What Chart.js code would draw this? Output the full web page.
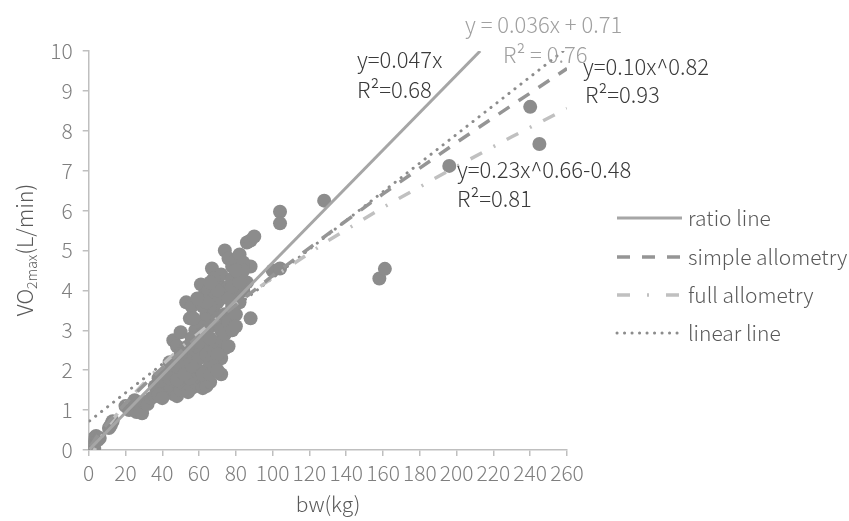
<!DOCTYPE html>
<html>
<head>
<meta charset="utf-8">
<script src="https://cdn.jsdelivr.net/npm/chart.js@4/dist/chart.umd.min.js"></script>
<style>
html,body{margin:0;padding:0;background:#fff;}
#c{display:block;}
</style>
</head>
<body>
<canvas id="c" width="849" height="521"></canvas>
<script>
// ---- data ----
const ptX = [0.5,1,1.5,2,2.5,3,4,5,6,3,
  11,13,12,
  20,22,24,26,28,29,30,32,34,36,25,
  36,38,42,40,42,44,46,48,50,52,54,56,58,60,62,64,66,55,60,64,72,
  44,46,48,50,52,54,56,58,60,62,64,66,68,70,72,74,76,
  53,56,55,58,60,62,64,66,68,70,72,74,76,78,80,82,88,
  61,63,65,67,68,70,72,74,76,78,80,82,84,86,88,
  74,76,78,80,82,84,86,88,90,
  70,72,66,68,64,58,56,60,62,66,70,74,78,80,76,78,84,82,80,70,66,64,57,59,
  48,50,46,38,40,44,48,52,56,62,66,68,70,54,52,50,
  104,104,128,100,104,158,161,196,240,245];
const ptY = [0.05,0.1,0.15,0.2,0.12,0.3,0.35,0.25,0.3,0.05,
  0.55,0.72,0.62,
  1.1,1.0,1.15,0.95,1.05,0.92,1.2,1.15,1.3,1.35,1.25,
  1.6,1.8,1.9,1.55,1.7,1.5,1.4,1.35,1.5,1.65,1.45,1.55,1.7,1.6,1.55,1.6,1.7,1.8,1.9,2.0,1.9,
  2.2,2.75,2.6,2.95,2.5,2.2,2.4,2.1,2.3,2.6,2.4,2.2,2.5,2.7,2.3,2.55,2.6,
  3.7,3.6,3.3,3.0,3.2,2.9,3.4,3.1,3.5,3.3,3.0,3.4,3.2,3.6,3.4,3.7,3.3,
  4.15,3.9,4.0,4.55,3.8,4.2,4.4,3.9,4.1,4.3,4.0,4.4,4.0,4.2,4.6,
  5.0,4.8,4.6,4.75,4.9,4.7,5.2,5.25,5.35,
  3.7,3.8,3.6,4.3,3.0,2.6,2.8,2.7,3.6,2.8,2.4,2.9,3.0,3.1,3.8,4.1,4.5,4.2,4.5,4.0,4.2,3.7,3.3,3.8,
  2.2,2.1,1.9,1.4,1.3,1.8,1.75,1.9,2.1,1.9,1.9,2.1,2.0,2.6,2.3,2.4,
  5.97,5.68,6.25,4.5,4.55,4.3,4.54,7.12,8.6,7.67];

const ratioX = [0.5, 212.8];
const ratioY = [0.02, 10.0];
const linearX = [0.5, 258];
const linearY = [0.73, 10.0];
const simpleX = [1,5,10,20,35,50,75,100,130,160,200,230,260];
const simpleY = [0.10,0.37,0.66,1.17,1.85,2.47,3.45,4.37,5.41,6.42,7.71,8.64,9.56];
const fullX = [1,3,5,10,20,35,50,75,100,130,160,200,230,260];
const fullY = [-0.25,-0.01,0.18,0.57,1.18,1.92,2.56,3.49,4.32,5.24,6.08,7.11,7.85,8.56];

const xTickVals = [0,20,40,60,80,100,120,140,160,180,200,220,240,260];
const yTickVals = [0,1,2,3,4,5,6,7,8,9,10];
const seriesNames = ['ratio line','simple allometry','full allometry','linear line'];

// ---- styles ----
const FONT = '"Noto Sans CJK SC", "Noto Sans", sans-serif';
const FW = '300 ';
const styles = [
  {color:'#a6a6a6', width:3, dash:[]},
  {color:'#959595', width:3.5, dash:[13,11]},
  {color:'#c0c0c0', width:3.5, dash:[13,13,2,13]},
  {color:'#8c8c8c', width:3, dash:[0.1,7.5], cap:'round'}
];

const toPts = (xs, ys) => xs.map((x,i)=>({x:x, y:ys[i]}));

function lineDs(label, xs, ys, st){
  return {label:label, data:toPts(xs,ys), showLine:true, fill:false,
    borderColor:st.color, borderWidth:st.width, borderDash:st.dash,
    borderCapStyle: st.cap || 'butt', pointRadius:0, pointHoverRadius:0,
    tension:0, clip:0, order:1};
}

const overlay = {
  id:'overlay',
  afterDraw(chart){
    const c = chart.ctx;
    c.save();
    // annotations
    const ann = [
      ['y=0.047x', 357, 68, '#3a3a3a'],
      ['R\u00B2=0.68', 357, 98, '#3a3a3a'],
      ['y = 0.036x + 0.71', 465, 33, '#a0a0a0'],
      ['R\u00B2 = 0.76', 503, 63, '#a0a0a0'],
      ['y=0.10x^0.82', 583, 75, '#3a3a3a'],
      ['R\u00B2=0.93', 585, 103, '#3a3a3a'],
      ['y=0.23x^0.66-0.48', 457, 178, '#3a3a3a'],
      ['R\u00B2=0.81', 457, 207, '#3a3a3a']
    ];
    c.font = FW + '22px ' + FONT;
    c.textBaseline = 'alphabetic';
    c.textAlign = 'left';
    ann.forEach(a => { c.fillStyle = a[3]; c.fillText(a[0], a[1], a[2]); });

    // legend
    const ly = [218, 257, 295, 333];
    seriesNames.forEach((name, i) => {
      const st = styles[i];
      c.beginPath();
      c.strokeStyle = st.color;
      c.lineWidth = st.width;
      c.setLineDash(i===0 ? [] : (i===1 ? [13,12] : (i===2 ? [13,17,2,17] : [0.1,7.4])));
      c.lineCap = st.cap || 'butt';
      c.moveTo(617, ly[i]); c.lineTo(682, ly[i]);
      c.stroke();
      c.setLineDash([]);
      c.lineCap = 'butt';
      c.fillStyle = '#595959';
      c.font = FW + '21px ' + FONT;
      c.textBaseline = 'middle';
      c.fillText(name, 688, ly[i]);
    });

    // axis titles
    c.fillStyle = '#595959';
    c.textBaseline = 'alphabetic';
    c.font = FW + '21px ' + FONT;
    const w1 = c.measureText('bw(kg)').width;
    c.fillText('bw(kg)', 328 - w1/2, 512);

    c.save();
    c.translate(33, 250);
    c.rotate(-Math.PI/2);
    c.font = FW + '21.5px ' + FONT;
    const a = c.measureText('VO').width;
    c.font = FW + '14px ' + FONT;
    const b = c.measureText('2max').width;
    c.font = FW + '21.5px ' + FONT;
    const d = c.measureText('(L/min)').width;
    let x0 = -(a+b+d)/2;
    c.font = FW + '21.5px ' + FONT; c.fillText('VO', x0, 0);
    c.font = FW + '14px ' + FONT; c.fillText('2max', x0 + a, 4);
    c.font = FW + '21.5px ' + FONT; c.fillText('(L/min)', x0 + a + b, 0);
    c.restore();
    c.restore();
  }
};

new Chart(document.getElementById('c'), {
  type:'scatter',
  data:{datasets:[
    lineDs(seriesNames[0], ratioX, ratioY, styles[0]),
    lineDs(seriesNames[1], simpleX, simpleY, styles[1]),
    lineDs(seriesNames[2], fullX, fullY, styles[2]),
    lineDs(seriesNames[3], linearX, linearY, styles[3]),
    {label:'VO2max', data:toPts(ptX, ptY), pointRadius:7, pointHoverRadius:7,
     backgroundColor:'#8c8c8c', borderWidth:0, showLine:false, order:10}
  ]},
  options:{
    responsive:false, animation:false, devicePixelRatio:1,
    layout:{padding:{left:0, right:282, top:51, bottom:0}},
    plugins:{legend:{display:false}, tooltip:{enabled:false}},
    events:[],
    scales:{
      x:{type:'linear', min:0, max:260,
        afterBuildTicks(s){ s.ticks = xTickVals.map(v=>({value:v})); },
        afterFit(s){ s.height = 71; },
        ticks:{autoSkip:false, maxRotation:0, minRotation:0, padding:4, color:'#7f7f7f',
          font:{family:FONT, size:21, weight:'300'}},
        grid:{display:true, drawOnChartArea:false, drawTicks:true, tickLength:6, color:'#bfbfbf', lineWidth:1.5},
        border:{display:true, color:'#bfbfbf', width:1.5}
      },
      y:{type:'linear', min:0, max:10,
        afterBuildTicks(s){ s.ticks = yTickVals.map(v=>({value:v})); },
        afterFit(s){ s.width = 88.7; },
        ticks:{padding:10, color:'#7f7f7f', font:{family:FONT, size:21, weight:'300'}},
        grid:{display:true, drawOnChartArea:false, drawTicks:true, tickLength:6, color:'#bfbfbf', lineWidth:1.5},
        border:{display:true, color:'#bfbfbf', width:1.5}
      }
    }
  },
  plugins:[overlay]
});
</script>
</body>
</html>
